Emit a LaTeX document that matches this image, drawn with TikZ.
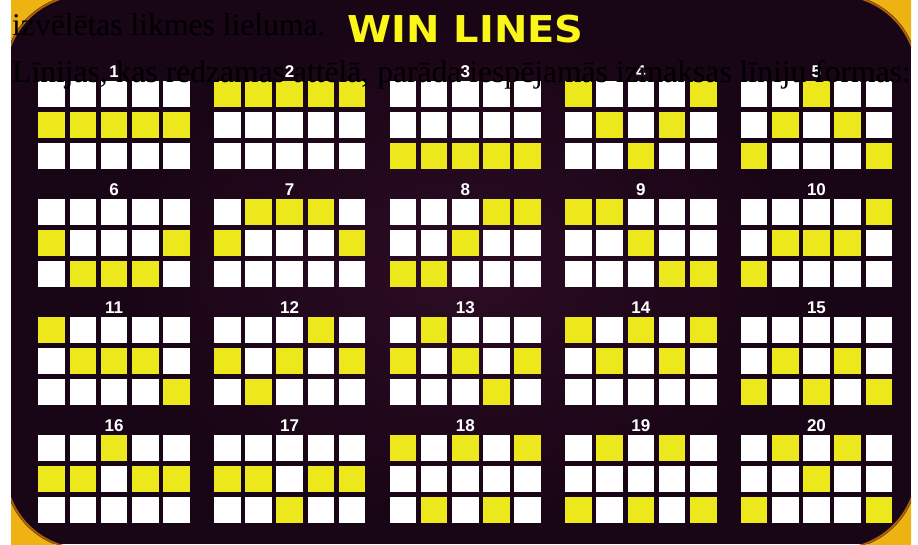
\documentclass[tikz,border=0pt]{standalone}
\usepackage{fontspec}
\usepackage{tikz}
\usetikzlibrary{arrows.meta, calc, positioning}
\newfontfamily\ovlfont{Liberation Serif}
\newfontfamily\numfont{Liberation Sans}
\newfontfamily\headfont{DejaVu Sans}
\definecolor{bgdark}{RGB}{24,5,21}
\definecolor{bgmid}{RGB}{44,12,36}
\definecolor{framegold}{RGB}{238,178,18}
\definecolor{frameedge}{RGB}{170,95,10}
\definecolor{cellyel}{RGB}{236,232,28}
\definecolor{headyel}{RGB}{250,246,24}

\begin{document}
\begin{tikzpicture}[x=1pt, y=-1pt,
    cell/.style={fill=white},
    hit/.style={fill=cellyel},
    numlbl/.style={text=white, font=\numfont\bfseries\fontsize{17}{17}\selectfont, anchor=base, inner sep=0pt},
    head/.style={text=headyel, font=\headfont\bfseries\fontsize{37}{37}\selectfont, anchor=base, inner sep=0pt, xscale=1.08},
    ovl/.style={text=black, font=\ovlfont\fontsize{31.6}{31.6}\selectfont, anchor=base west, inner sep=0pt}]
  \useasboundingbox (0,0) rectangle (918,544);
  \fill[white] (0,0) rectangle (918,544);

  \begin{scope}
    \clip (11,0) rectangle (911,544);
    \fill[bgdark] (11,0) rectangle (911,544);
    \shade[inner color=bgmid, outer color=bgdark] (120,20) rectangle (800,524);
    \fill[framegold, even odd rule, rounded corners=80pt]
      (-20,-30) rectangle (940,575) (4,-6) rectangle (918,550);
    \draw[frameedge, line width=2pt, rounded corners=80pt] (5,-5) rectangle (917,549);
  \end{scope}

  \node[head] (title) at (465.5,42) {WIN LINES};

  \foreach \n/\pat in {1/{2,2,2,2,2}, 2/{1,1,1,1,1}, 3/{3,3,3,3,3}, 4/{1,2,3,2,1}, 5/{3,2,1,2,3},
                       6/{2,3,3,3,2}, 7/{2,1,1,1,2}, 8/{3,3,2,1,1}, 9/{1,1,2,3,3}, 10/{3,2,2,2,1},
                       11/{1,2,2,2,3}, 12/{2,3,2,1,2}, 13/{2,1,2,3,2}, 14/{1,2,1,2,1}, 15/{3,2,3,2,3},
                       16/{2,2,1,2,2}, 17/{2,2,3,2,2}, 18/{1,3,1,3,1}, 19/{3,1,3,1,3}, 20/{3,1,2,1,3}} {
    \pgfmathtruncatemacro{\gx}{mod(\n-1,5)}
    \pgfmathtruncatemacro{\gy}{div(\n-1,5)}
    \pgfmathsetmacro{\xo}{38.3+175.6*\gx}
    \pgfmathsetmacro{\yo}{80.7+118.1*\gy}
    \foreach \c in {0,...,4}
      \foreach \r in {0,1,2}
        \fill[cell] ({\xo+31.2*\c},{\yo+31*\r}) rectangle ++(26.7,26);
    \foreach \r [count=\c from 0] in \pat
      \fill[hit] ({\xo+31.2*\c},{\yo+31*(\r-1)}) rectangle ++(26.7,26);
    \node[numlbl] (num\n) at ({\xo+75.75},{\yo-3.5}) {\n};
  }

  \node[ovl] (ovlA) at (12,35) {izvēlētas likmes lieluma.};
  \node[ovl] (ovlB) at (12,82) {Līnijas, kas redzamas attēlā, parāda iespējamās izmaksas līniju formas:};
\end{tikzpicture}
\end{document}
